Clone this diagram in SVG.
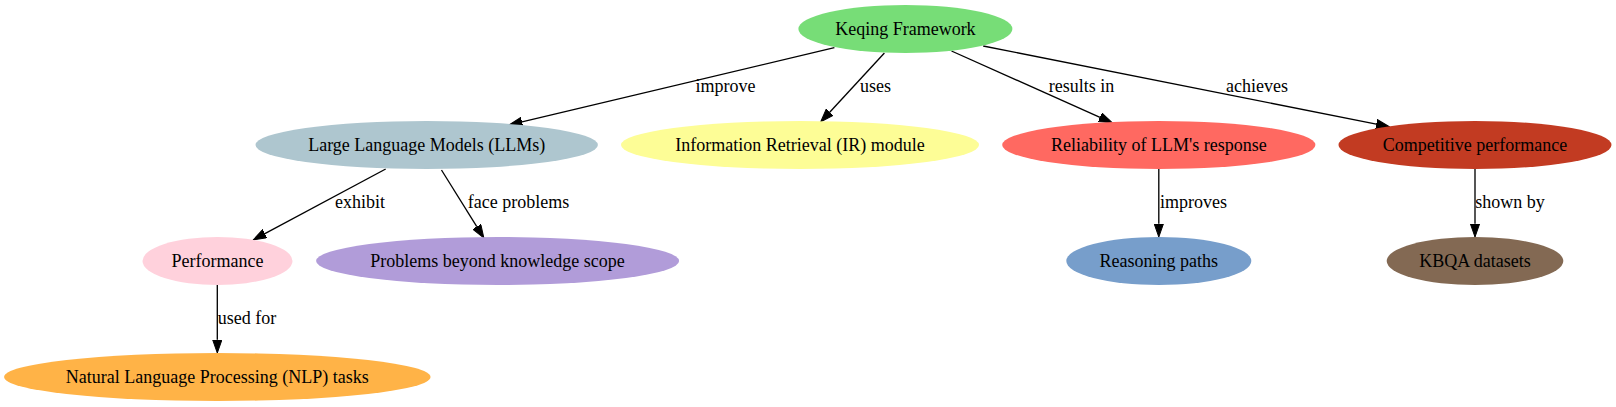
<svg xmlns="http://www.w3.org/2000/svg" width="1616" height="407" viewBox="0 0 1616 407">
<style>
text{font-family:"Liberation Serif","Times New Roman",serif;font-size:18px;fill:#000;text-anchor:middle}
.e{stroke:#000;stroke-width:1.33;fill:none;marker-end:url(#arr)}
</style>
<defs>
<marker id="arr" markerUnits="userSpaceOnUse" markerWidth="14" markerHeight="10" refX="0" refY="5" viewBox="0 0 14 10" orient="auto">
<path d="M0,0.33 L13.33,5 L0,9.67 z" fill="#000" stroke="#000" stroke-width="1"/>
</marker>
</defs>
<rect width="1616" height="407" fill="#fff"/>
<g id="connectors">
<line class="e" x1="834.4" y1="47.7" x2="522" y2="121.9"/>
<text x="725.5" y="91.5">improve</text>
<line class="e" x1="884.4" y1="53" x2="829.7" y2="112.2"/>
<text x="875.5" y="91.5">uses</text>
<line class="e" x1="951.5" y1="51" x2="1100" y2="117.3"/>
<text x="1081.5" y="91.5">results in</text>
<line class="e" x1="983.2" y1="46" x2="1376.3" y2="124.1"/>
<text x="1257" y="91.5">achieves</text>
<line class="e" x1="385.7" y1="169" x2="264.9" y2="233.7"/>
<text x="360" y="207.5">exhibit</text>
<line class="e" x1="441.5" y1="170" x2="476.8" y2="226.7"/>
<text x="518.5" y="207.5">face problems</text>
<line class="e" x1="217.3" y1="285" x2="217.3" y2="339.7"/>
<text x="247" y="323.5">used for</text>
<line class="e" x1="1158.8" y1="169" x2="1158.8" y2="223.7"/>
<text x="1193.5" y="207.5">improves</text>
<line class="e" x1="1475" y1="169" x2="1475" y2="223.7"/>
<text x="1510" y="207.5">shown by</text>
</g>
<g id="keqing"><ellipse cx="905.4" cy="29" rx="107" ry="24" fill="#77dd77"/><text x="905.4" y="34.5">Keqing Framework</text></g>
<g id="llms"><ellipse cx="426.7" cy="145" rx="171.2" ry="24" fill="#aec6cf"/><text x="426.7" y="150.5">Large Language Models (LLMs)</text></g>
<g id="ir"><ellipse cx="800" cy="145" rx="179" ry="24" fill="#fdfd96"/><text x="800" y="150.5">Information Retrieval (IR) module</text></g>
<g id="reliability"><ellipse cx="1158.8" cy="145" rx="156.6" ry="24" fill="#ff6961"/><text x="1158.8" y="150.5">Reliability of LLM's response</text></g>
<g id="competitive"><ellipse cx="1475" cy="145" rx="136.5" ry="24" fill="#c23b22"/><text x="1475" y="150.5">Competitive performance</text></g>
<g id="performance"><ellipse cx="217.5" cy="261" rx="75" ry="24" fill="#ffd1dc"/><text x="217.5" y="266.5">Performance</text></g>
<g id="problems"><ellipse cx="497.6" cy="261" rx="181.5" ry="24" fill="#b19cd9"/><text x="497.6" y="266.5">Problems beyond knowledge scope</text></g>
<g id="reasoning"><ellipse cx="1158.8" cy="261" rx="92.5" ry="24" fill="#779ecb"/><text x="1158.8" y="266.5">Reasoning paths</text></g>
<g id="kbqa"><ellipse cx="1475" cy="261" rx="88.3" ry="24" fill="#836953"/><text x="1475" y="266.5">KBQA datasets</text></g>
<g id="nlp"><ellipse cx="217.3" cy="377" rx="213.2" ry="24" fill="#ffb347"/><text x="217.3" y="382.5">Natural Language Processing (NLP) tasks</text></g>
</svg>
